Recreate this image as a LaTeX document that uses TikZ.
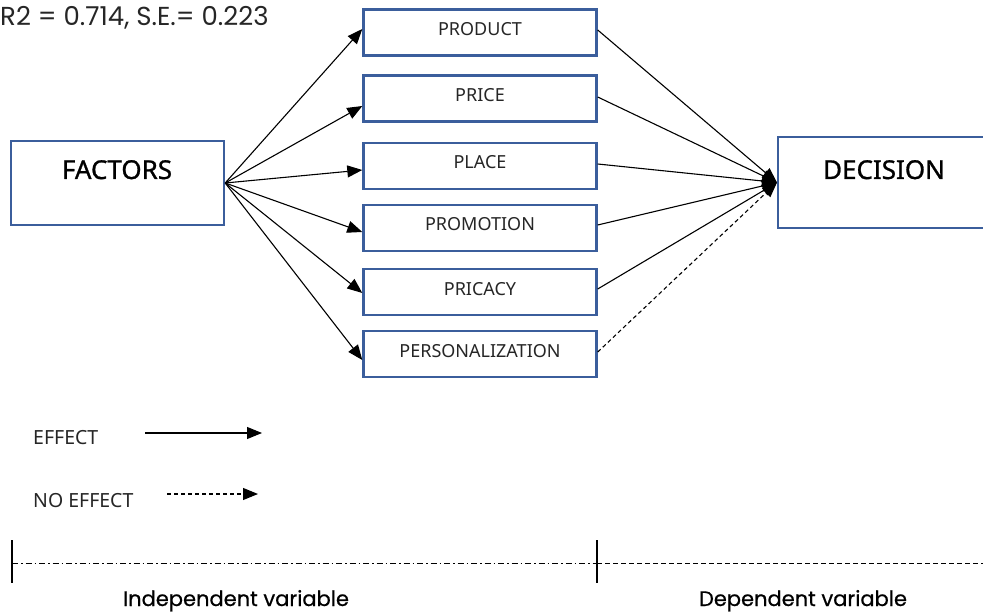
\documentclass[tikz,border=0pt]{standalone}
\usepackage{fontspec}
\setmainfont{Noto Sans}
\newfontfamily\roundfont{Poppins}
\newfontfamily\roundmedium[FakeBold=0.6]{Poppins}
\newfontfamily\headfont[FakeBold=1.0]{Noto Sans}
\usetikzlibrary{arrows.meta}
\definecolor{boxblue}{HTML}{3B5E9C}
\definecolor{labelgray}{HTML}{262626}

\begin{document}
\begin{tikzpicture}[x=1pt,y=-1pt,
  frame/.style={draw=boxblue, line width=2.4pt, inner sep=0pt, fill=white},
  smallbox/.style={frame, minimum width=233pt, minimum height=46pt},
  smalltext/.style={anchor=base, inner sep=0pt, text=labelgray, font=\fontsize{18}{21}\selectfont},
  headtext/.style={anchor=base, inner sep=0pt, font=\headfont\fontsize{26}{30}\selectfont},
  axistext/.style={anchor=base, inner sep=0pt, font=\roundmedium\fontsize{21}{25}\selectfont},
  legendtext/.style={anchor=base west, inner sep=0pt, text=labelgray, font=\fontsize{19.5}{23}\selectfont},
  tip/.style={-{Triangle[length=15pt,width=12pt]}},
  link/.style={tip, line width=1.1pt},
  nolink/.style={tip, line width=1.1pt, dash pattern=on 4pt off 3pt}
]
\useasboundingbox (0,0) rectangle (983,612);

% heading statistics
\node[anchor=base west, inner sep=0pt, text=labelgray, font=\roundfont\fontsize{26}{30}\selectfont] (stats) at (0,26) {R2 = 0.714, S.E.= 0.223};

% independent and dependent blocks
\node[frame, minimum width=213pt, minimum height=84pt] (factors) at (117.5,183) {};
\node[headtext] (factorsText) at (117,179) {FACTORS};

\begin{scope}
\clip (0,0) rectangle (983,612);
\node[frame, minimum width=220pt, minimum height=91pt, anchor=west] (decision) at (777,182.5) {};
\end{scope}
\node[headtext] (decisionText) at (884,179) {DECISION};

% the six factor boxes
\node[smallbox] (product)  at (480,32.5) {};
\node[smallbox] (price)    at (480,98.5) {};
\node[smallbox] (place)    at (480,166)  {};
\node[smallbox] (promo)    at (480,228)  {};
\node[smallbox] (pricacy)  at (480,292)  {};
\node[smallbox] (person)   at (480,354)  {};

\node[smalltext] (productText) at (480,35.5)  {PRODUCT};
\node[smalltext] (priceText)   at (480,102)   {PRICE};
\node[smalltext] (placeText)   at (480,168.5) {PLACE};
\node[smalltext] (promoText)   at (480,231)   {PROMOTION};
\node[smalltext] (pricacyText) at (480,295.5) {PRICACY};
\node[smalltext] (personText)  at (480,357.5) {PERSONALIZATION};

% factors -> each box
\draw[link] (factors.east) -- ([yshift=3.5pt]product.west);
\draw[link] (factors.east) -- ([yshift=-7.5pt]price.west);
\draw[link] (factors.east) -- ([yshift=-4pt]place.west);
\draw[link] (factors.east) -- ([yshift=-4pt]promo.west);
\draw[link] (factors.east) -- ([yshift=-1pt]pricacy.west);
\draw[link] (factors.east) -- ([yshift=-6pt]person.west);

% each box -> decision
\draw[link] ([yshift=2.5pt]product.east) -- (decision.west);
\draw[link] ([yshift=1.5pt]price.east) -- (decision.west);
\draw[link] ([yshift=2pt]place.east) -- (decision.west);
\draw[link] ([yshift=3pt]promo.east) -- (decision.west);
\draw[link] ([yshift=3pt]pricacy.east) -- (decision.west);
\draw[nolink] ([yshift=2pt]person.east) -- (decision.west);

% legend
\node[legendtext] (effectText) at (33,444) {EFFECT};
\coordinate (effA) at (145,433);
\coordinate (effB) at (262,433);
\draw[link] (effA) -- (effB);

\node[legendtext] (noEffectText) at (33,507) {NO EFFECT};
\coordinate (noA) at (167,494);
\coordinate (noB) at (258,494);
\draw[nolink] (noA) -- (noB);

% variable axis
\coordinate (barL1) at (12,540);
\coordinate (barL2) at (12,583);
\coordinate (barM1) at (597,540);
\coordinate (barM2) at (597,583);
\coordinate (axisL) at (12,563);
\coordinate (axisM) at (597,563);
\coordinate (axisR) at (983,563);
\draw[line width=1.2pt] (barL1) -- (barL2);
\draw[line width=1.2pt] (barM1) -- (barM2);
\draw[line width=0.8pt, dash pattern=on 6pt off 3pt on 1.5pt off 3pt] (axisL) -- (axisM);
\draw[line width=0.8pt, dash pattern=on 5pt off 3pt] (axisM) -- (axisR);

\node[axistext] (indepText) at (236,606) {Independent variable};
\node[axistext] (depText) at (803,606) {Dependent variable};
\end{tikzpicture}
\end{document}
